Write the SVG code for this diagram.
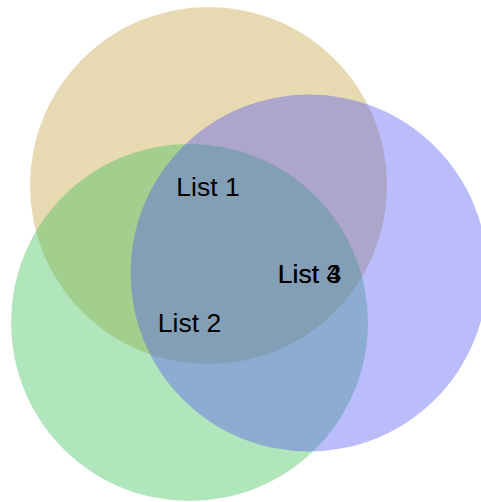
<svg xmlns="http://www.w3.org/2000/svg" width="481" height="502" viewBox="0 0 481 502">
<style>
.c{fill-opacity:0.4;stroke:none}
.t{font-family:"Liberation Sans",Arial,sans-serif;font-size:26.5px;fill:#000;text-anchor:middle}
</style>
<rect width="481" height="502" fill="#fff"/>
<g id="list1"><circle class="c" cx="208.5" cy="185.5" r="178.5" fill="#c4a23e"/></g>
<g id="list2"><circle class="c" cx="189.5" cy="322.5" r="178.5" fill="#3cbe58"/></g>
<g id="list3"><circle class="c" cx="309" cy="273" r="178.5" fill="#5558f2"/></g>
<g id="labels">
<text class="t" x="208" y="196">List 1</text>
<text class="t" x="189.5" y="332">List 2</text>
<text class="t" x="309.5" y="283">List 3</text>
<text class="t" x="309.5" y="283">List 4</text>
</g>
<g id="connectors"/>
</svg>
